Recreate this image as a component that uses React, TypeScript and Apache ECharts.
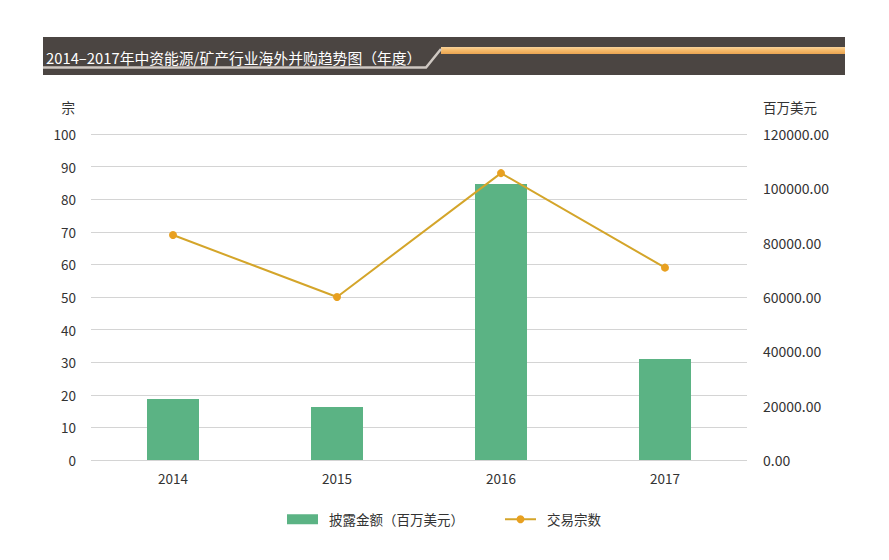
import React, { useEffect, useRef } from "react";
import * as echarts from "echarts";

const years = ["2014", "2015", "2016", "2017"];
const amounts = [22500, 19500, 101600, 37200];
const deals = [69, 50, 88, 59];
const titleText = "2014–2017年中资能源/矿产行业海外并购趋势图（年度）";

const FONT = "'Noto Sans CJK SC', 'Noto Sans', sans-serif";

export default function App() {
  const ref = useRef<HTMLDivElement>(null);
  useEffect(() => {
    if (!ref.current) return;
    const chart = echarts.init(ref.current, null, { renderer: "svg" });
    chart.setOption({
      animation: false,
      backgroundColor: "#ffffff",
      textStyle: { fontFamily: FONT },
      graphic: [
        { type: "rect", shape: { x: 43, y: 37, width: 802, height: 38 }, style: { fill: "#4b4542" } },
        {
          type: "rect",
          shape: { x: 441, y: 47, width: 404, height: 7 },
          style: {
            fill: new echarts.graphic.LinearGradient(0, 0, 0, 1, [
              { offset: 0, color: "#f7d39c" },
              { offset: 0.5, color: "#f5b968" },
              { offset: 1, color: "#e9a452" },
            ]),
          },
        },
        {
          type: "polyline",
          shape: { points: [[43, 67.5], [426, 67.5], [441, 49]] },
          style: { stroke: "#cfc8c2", lineWidth: 2.5, fill: null },
        },
        {
          type: "text",
          x: 46,
          y: 57,
          style: {
            text: titleText,
            fill: "#ffffff",
            font: `14.8px ${FONT}`,
            verticalAlign: "middle",
          },
        },
      ],
      legend: {
        bottom: 34,
        left: 287,
        padding: 0,
        itemGap: 40,
        itemWidth: 31,
        itemHeight: 10,
        textStyle: { fontSize: 13.5, color: "#333", fontFamily: FONT, padding: [0, 0, 0, 6] },
        data: [
          { name: "披露金额（百万美元）", icon: "rect" },
          { name: "交易宗数" },
        ],
      },
      grid: { left: 91, right: 142, top: 134, bottom: 100 },
      xAxis: {
        type: "category",
        data: years,
        axisLine: { show: false },
        axisTick: { show: false },
        axisLabel: { color: "#333", fontSize: 13.5, margin: 11, fontFamily: FONT },
      },
      yAxis: [
        {
          type: "value",
          min: 0,
          max: 100,
          interval: 10,
          name: "宗",
          nameLocation: "end",
          nameGap: 20,
          nameTextStyle: { color: "#333", fontSize: 13.5, align: "right", padding: [0, 16, 0, 0] },
          axisLine: { show: false },
          axisTick: { show: false },
          axisLabel: { color: "#333", fontSize: 13.5, margin: 15, fontFamily: FONT },
          splitLine: { lineStyle: { color: "#d4d4d4", width: 1 } },
        },
        {
          type: "value",
          min: 0,
          max: 120000,
          interval: 20000,
          name: "百万美元",
          nameLocation: "end",
          nameGap: 20,
          nameTextStyle: { color: "#333", fontSize: 13.5, align: "left", padding: [0, 0, 0, 16] },
          axisLine: { show: false },
          axisTick: { show: false },
          axisLabel: {
            color: "#333",
            fontSize: 14,
            margin: 16,
            fontFamily: FONT,
            formatter: (v: number) => v.toFixed(2),
          },
          splitLine: { show: false },
        },
      ],
      series: [
        {
          name: "披露金额（百万美元）",
          type: "bar",
          yAxisIndex: 1,
          data: amounts,
          barWidth: 52,
          itemStyle: { color: "#5bb384" },
        },
        {
          name: "交易宗数",
          type: "line",
          yAxisIndex: 0,
          data: deals,
          symbol: "circle",
          symbolSize: 8,
          lineStyle: { color: "#d4a52a", width: 2 },
          itemStyle: { color: "#e8a020" },
        },
      ],
    });
    return () => chart.dispose();
  }, []);
  return (
    <div
      ref={ref}
      style={{ position: "fixed", left: 0, top: 0, width: 889, height: 560 }}
    />
  );
}
